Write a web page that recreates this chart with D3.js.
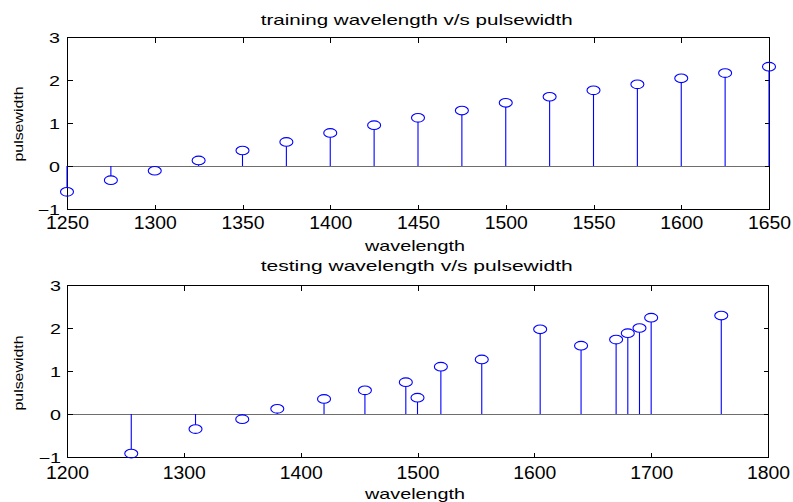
<!DOCTYPE html>
<html>
<head>
<meta charset="utf-8">
<script src="https://cdn.jsdelivr.net/npm/d3@7"></script>
<style>
  html, body { margin: 0; padding: 0; background: #fff; }
  svg { display: block; }
  text { font-family: "Liberation Sans", Arial, sans-serif; fill: #000; }
</style>
</head>
<body>
<svg id="chart" width="793" height="502"></svg>
<script>
// ---------- data ----------
const trainWavelength = [1250, 1275, 1300, 1325, 1350, 1375, 1400, 1425, 1450, 1475, 1500, 1525, 1550, 1575, 1600, 1625, 1650];
const trainPulse      = [-0.60, -0.33, -0.11, 0.13, 0.36, 0.56, 0.77, 0.95, 1.12, 1.29, 1.47, 1.61, 1.76, 1.90, 2.04, 2.16, 2.31];

const testWavelength  = [1255, 1310, 1350, 1380, 1420, 1455, 1490, 1500, 1520, 1555, 1605, 1640, 1670, 1680, 1690, 1700, 1760];
const testPulse       = [-0.92, -0.35, -0.12, 0.12, 0.35, 0.55, 0.74, 0.38, 1.10, 1.27, 1.97, 1.59, 1.73, 1.88, 2.00, 2.24, 2.29];

const trainXTicks = [1250, 1300, 1350, 1400, 1450, 1500, 1550, 1600, 1650];
const testXTicks  = [1200, 1300, 1400, 1500, 1600, 1700, 1800];
const yTicks      = [-1, 0, 1, 2, 3];

const titles  = ["training wavelength v/s pulsewidth", "testing wavelength v/s pulsewidth"];
const xLabel  = "wavelength";
const yLabel  = "pulsewidth";

// ---------- layout ----------
const svg = d3.select("#chart");
const blue = "#0000ff";

const panels = [
  { xs: trainWavelength, ys: trainPulse, xTicks: trainXTicks, xDomain: [1250, 1650],
    left: 67, right: 769, top: 37, bottom: 209, title: titles[0],
    titleY: 24.5, xLabY: 250.5, yLabCY: 124, xTickBase: 19, yLabRight: 60 },
  { xs: testWavelength, ys: testPulse, xTicks: testXTicks, xDomain: [1200, 1800],
    left: 67, right: 768, top: 285, bottom: 457, title: titles[1],
    titleY: 271, xLabY: 499, yLabCY: 373, xTickBase: 21.3, yLabRight: 61 }
];

panels.forEach(p => {
  const x = d3.scaleLinear().domain(p.xDomain).range([p.left, p.right]);
  const y = d3.scaleLinear().domain([-1, 3]).range([p.bottom, p.top]);
  const g = svg.append("g");

  // baseline at 0
  g.append("line")
    .attr("x1", p.left).attr("x2", p.right)
    .attr("y1", Math.round(y(0)) + 0.5).attr("y2", Math.round(y(0)) + 0.5)
    .attr("stroke", "#6e6e6e").attr("stroke-width", 1);

  // box
  g.append("rect")
    .attr("x", p.left + 0.5).attr("y", p.top + 0.5)
    .attr("width", p.right - p.left).attr("height", p.bottom - p.top)
    .attr("fill", "none").attr("stroke", "#000").attr("stroke-width", 1)
    .attr("shape-rendering", "crispEdges");

  // axes (inward ticks)
  const axB = g.append("g").attr("transform", `translate(0,${p.bottom + 0.5})`)
    .call(d3.axisBottom(x).tickValues(p.xTicks).tickSize(-5).tickFormat(d3.format("d")));
  const axT = g.append("g").attr("transform", `translate(0,${p.top + 0.5})`)
    .call(d3.axisTop(x).tickValues(p.xTicks).tickSize(-5).tickFormat(""));
  const axL = g.append("g").attr("transform", `translate(${p.left + 0.5},0)`)
    .call(d3.axisLeft(y).tickValues(yTicks).tickSize(-5).tickFormat(d3.format("d")));
  const axR = g.append("g").attr("transform", `translate(${p.right + 0.5},0)`)
    .call(d3.axisRight(y).tickValues(yTicks).tickSize(-5).tickFormat(""));

  [axB, axT, axL, axR].forEach(a => {
    a.select(".domain").remove();
    a.selectAll(".tick line").attr("stroke", "#000").attr("shape-rendering", "crispEdges");
  });

  axB.selectAll(".tick text")
    .attr("y", null).attr("dy", null)
    .attr("font-size", 17.6).attr("font-family", null)
    .attr("transform", `translate(0,${p.xTickBase}) scale(1.1,1)`);

  axL.selectAll(".tick text")
    .attr("x", null).attr("dy", null)
    .attr("font-size", 14.4).attr("font-family", null)
    .attr("text-anchor", "end")
    .attr("transform", `translate(${p.yLabRight - p.left - 0.5},5.2) scale(1.37,1)`);

  // title
  g.append("text")
    .attr("x", 416.7).attr("y", p.titleY)
    .attr("text-anchor", "middle").attr("font-size", 14.3)
    .attr("textLength", 312).attr("lengthAdjust", "spacingAndGlyphs")
    .text(p.title);

  // x label
  g.append("text")
    .attr("x", 415).attr("y", p.xLabY)
    .attr("text-anchor", "middle").attr("font-size", 14.3)
    .attr("textLength", 100).attr("lengthAdjust", "spacingAndGlyphs")
    .text(xLabel);

  // y label
  g.append("text")
    .attr("transform", `translate(23.3,${p.yLabCY}) rotate(-90)`)
    .attr("text-anchor", "middle").attr("font-size", 13.7)
    .attr("textLength", 75).attr("lengthAdjust", "spacingAndGlyphs")
    .text(yLabel);

  // stems
  const rx = 6.5, ry = 4.3;
  const data = p.xs.map((d, i) => ({ x: d, y: p.ys[i] }));
  g.append("g").selectAll("line").data(data).join("line")
    .attr("x1", d => x(d.x)).attr("x2", d => x(d.x))
    .attr("y1", y(0))
    .attr("y2", d => y(d.y) + (d.y >= 0 ? ry : -ry))
    .attr("stroke", blue).attr("stroke-width", 1.1);

  g.append("g").selectAll("ellipse").data(data).join("ellipse")
    .attr("cx", d => x(d.x)).attr("cy", d => y(d.y))
    .attr("rx", rx).attr("ry", ry)
    .attr("fill", "none").attr("stroke", blue).attr("stroke-width", 1.1);
});
</script>
</body>
</html>
